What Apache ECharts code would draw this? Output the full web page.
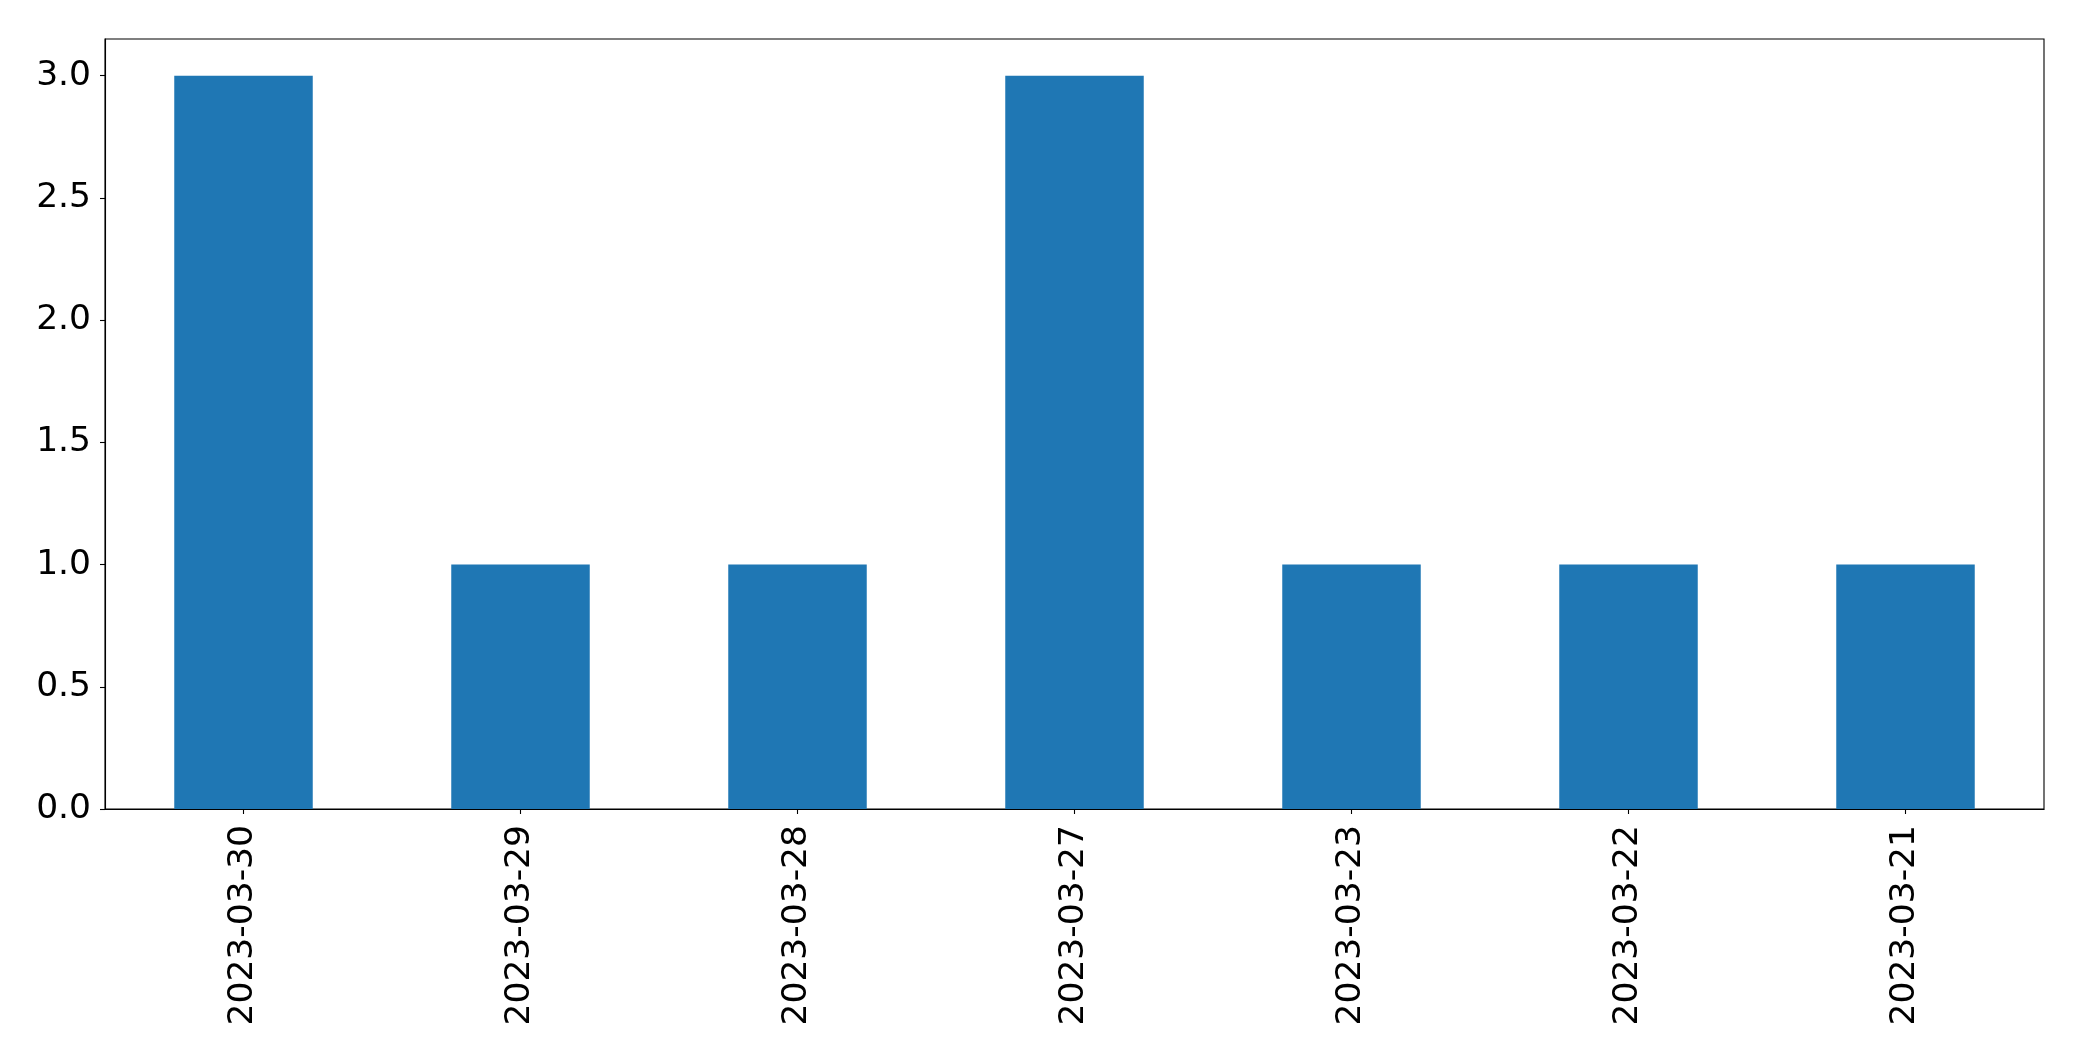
<!DOCTYPE html>
<html>
<head>
<meta charset="utf-8">
<script src="https://cdn.jsdelivr.net/npm/echarts@6/dist/echarts.min.js"></script>
<style>html,body{margin:0;padding:0;background:#fff;}#c{width:2082px;height:1061px;}</style>
</head>
<body>
<div id="c"></div>
<script>
var categories = ["2023-03-30","2023-03-29","2023-03-28","2023-03-27","2023-03-23","2023-03-22","2023-03-21"];
var values = [3, 1, 1, 3, 1, 1, 1];
var yTicks = [0, 0.5, 1.0, 1.5, 2.0, 2.5, 3.0];

var chart = echarts.init(document.getElementById('c'), null, {renderer: 'canvas'});
var font = 'DejaVu Sans';
chart.setOption({
  animation: false,
  backgroundColor: '#fff',
  grid: {left: 105, top: 39, right: 38, bottom: 252, show: true, borderColor: '#000', borderWidth: 1.1, containLabel: false},
  xAxis: {
    type: 'category',
    data: categories,
    boundaryGap: true,
    axisLine: {show: true, lineStyle: {color: '#000', width: 1.1}},
    axisTick: {show: true, alignWithLabel: true, length: 5, lineStyle: {color: '#000', width: 1.1}},
    axisLabel: {rotate: 90, margin: 16, color: '#000', fontSize: 34.5, fontFamily: font, interval: 0},
    splitLine: {show: false}
  },
  yAxis: {
    type: 'value',
    min: 0,
    max: 3.15,
    axisLine: {show: true, lineStyle: {color: '#000', width: 1.1}},
    axisTick: {show: true, length: 5, lineStyle: {color: '#000', width: 1.1}, customValues: yTicks},
    axisLabel: {margin: 14, color: '#000', fontSize: 34.5, fontFamily: font, customValues: yTicks,
      formatter: function(v){ return v.toFixed(1); }},
    splitLine: {show: false}
  },
  series: [{
    type: 'bar',
    data: values,
    barWidth: '50%',
    itemStyle: {color: '#1f77b4'}
  }]
});
</script>
</body>
</html>
